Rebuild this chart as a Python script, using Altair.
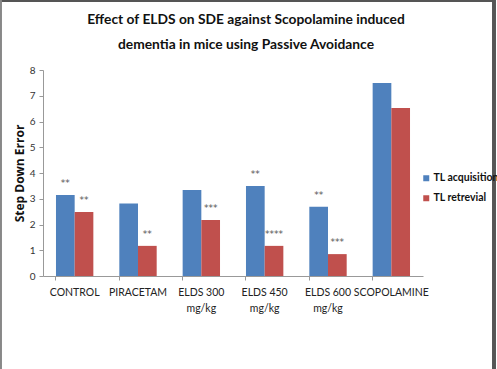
import altair as alt
import pandas as pd

groups = ["CONTROL", "PIRACETAM", "ELDS 300 mg/kg", "ELDS 450 mg/kg", "ELDS 600 mg/kg", "SCOPOLAMINE"]
acquisition = [3.15, 2.82, 3.34, 3.50, 2.69, 7.50]
retrieval = [2.49, 1.17, 2.17, 1.17, 0.85, 6.52]
acq_sig = ["**", "", "", "**", "**", ""]
ret_sig = ["**", "**", "***", "****", "***", ""]
series = ["TL acquisition", "TL retrevial"]
colors = ["#4F81BD", "#C0504D"]
title_lines = ["Effect of ELDS on SDE  against Scopolamine induced", "dementia in mice using Passive Avoidance"]

rows = []
for g, a, r, sa, sr in zip(groups, acquisition, retrieval, acq_sig, ret_sig):
    rows.append({"group": g, "series": series[0], "value": a, "sig": sa})
    rows.append({"group": g, "series": series[1], "value": r, "sig": sr})
df = pd.DataFrame(rows)

LABEL_FONT = "Lato"

x_enc = alt.X(
    "group:N",
    sort=groups,
    title=None,
    scale=alt.Scale(paddingInner=0.41, paddingOuter=0.205),
    axis=alt.Axis(
        labelAngle=0,
        labelFont=LABEL_FONT,
        labelFontSize=10.5,
        labelColor="#222",
        labelPadding=7,
        labelLineHeight=16,
        labelExpr="indexof(datum.label, ' mg/kg') > 0 ? [replace(datum.label, ' mg/kg', ''), 'mg/kg'] : datum.label",
        bandPosition=0,
        tickSize=4,
        tickColor="#999",
        domainColor="#999",
    ),
)
xo = alt.XOffset("series:N", sort=series)
y_enc = alt.Y(
    "value:Q",
    title="Step Down Error",
    scale=alt.Scale(domain=[0, 8]),
    axis=alt.Axis(
        values=[0, 1, 2, 3, 4, 5, 6, 7, 8],
        labelOverlap=False,
        grid=False,
        labelFont=LABEL_FONT,
        labelFontSize=10,
        labelColor="#333",
        labelPadding=4,
        tickSize=4,
        tickColor="#999",
        domainColor="#999",
        titleFont="Open Sans",
        titleFontSize=12,
        titleFontWeight="bold",
        titleColor="#111",
        titlePadding=3,
    ),
)

bars = alt.Chart(df).mark_bar().encode(
    x=x_enc,
    xOffset=xo,
    y=y_enc,
    color=alt.Color(
        "series:N",
        sort=series,
        scale=alt.Scale(domain=series, range=colors),
        legend=alt.Legend(
            title=None,
            orient="none",
            legendX=378,
            legendY=103,
            symbolType="square",
            symbolSize=36,
            symbolStrokeWidth=0,
            labelFont=LABEL_FONT,
            labelFontSize=10.5,
            labelFontWeight="bold",
            labelColor="#111",
            rowPadding=9,
            labelOffset=2,
        ),
    ),
)

stars = alt.Chart(df).mark_text(
    dy=-12, fontSize=9, color="#555", font="DejaVu Sans"
).encode(
    x=x_enc,
    xOffset=xo,
    y=y_enc,
    text="sig:N",
)

# two-line heading above the plot
title_df = pd.DataFrame({"line": title_lines})
heading1 = alt.Chart(title_df.iloc[[0]]).mark_text(
    font="Lato", fontSize=13.8, fontWeight="bold", color="#111", align="center", baseline="middle"
).encode(x=alt.value(203), y=alt.value(-50), text="line:N")
heading2 = alt.Chart(title_df.iloc[[1]]).mark_text(
    font="Lato", fontSize=13.8, fontWeight="bold", color="#111", align="center", baseline="middle"
).encode(x=alt.value(203), y=alt.value(-25), text="line:N")

# outer frame of the figure
frame_top = alt.Chart(df).mark_rule(color="#555", strokeWidth=2).encode(
    x=alt.value(-43), x2=alt.value(451), y=alt.value(-69)
)
frame_left = alt.Chart(df).mark_rule(color="#888", strokeWidth=1.5).encode(
    x=alt.value(-42.5), y=alt.value(-70), y2=alt.value(299)
)
frame_right = alt.Chart(df).mark_rule(color="#555", strokeWidth=2.5).encode(
    x=alt.value(451), y=alt.value(-70), y2=alt.value(299)
)

chart = (
    alt.layer(bars, stars, heading1, heading2, frame_top, frame_left, frame_right)
    .properties(
        width=380,
        height=206,
        background="white",
        padding={"left": 43, "top": 70, "right": 74, "bottom": 93},
        autosize=alt.AutoSizeParams(type="none"),
    )
    .configure_view(strokeWidth=0)
)

chart.save("out.html", embed_options={"renderer": "svg", "actions": False})
